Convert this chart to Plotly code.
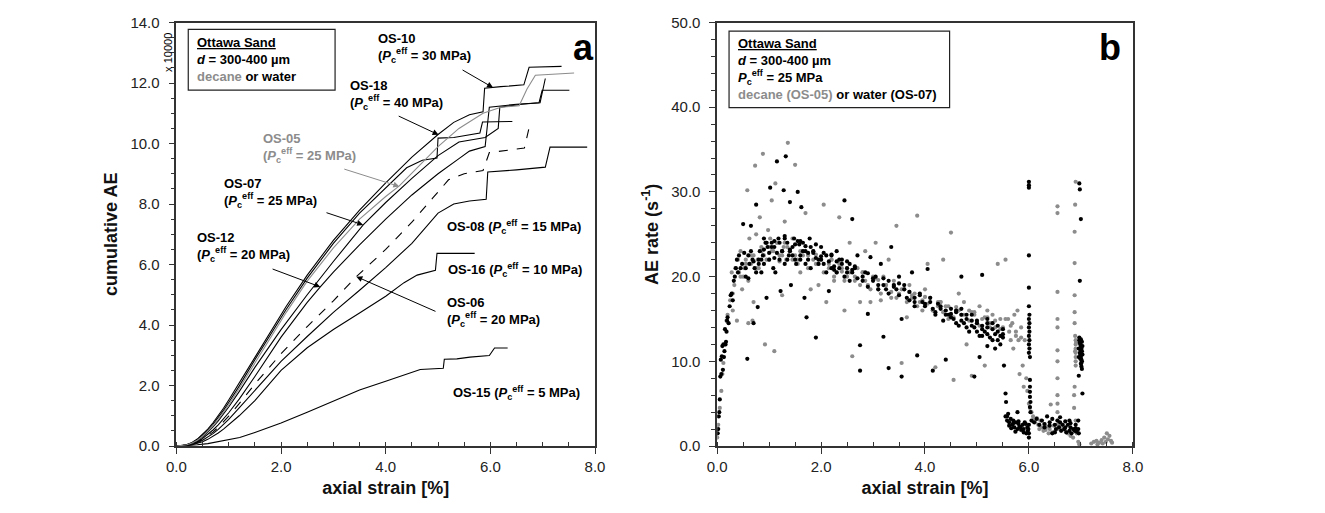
import plotly.graph_objects as go

# ---------------- Panel a: cumulative AE (x 10000) vs axial strain [%] ----------------
os10_x = [0, 0.1, 0.2, 0.3, 0.4, 0.5, 0.6, 0.7, 0.8, 0.9, 1.0, 1.2, 1.5, 1.8, 2.1, 2.5, 3.0, 3.5, 4.0, 4.5, 5.0, 5.3, 5.6, 5.86, 5.89, 6.2, 6.64, 6.74, 7.36]
os10_y = [0, 0.01, 0.05, 0.12, 0.23, 0.38, 0.56, 0.77, 1.0, 1.25, 1.52, 2.08, 2.95, 3.8, 4.62, 5.65, 6.8, 7.8, 8.7, 9.55, 10.3, 10.7, 10.95, 11.05, 11.83, 11.88, 11.94, 12.52, 12.55]

os18_x = [0, 0.1, 0.2, 0.3, 0.4, 0.5, 0.6, 0.7, 0.8, 0.9, 1.0, 1.2, 1.5, 1.8, 2.1, 2.5, 3.0, 3.5, 4.0, 4.4, 4.7, 4.98, 5.0, 5.3, 5.8, 5.85, 6.42]
os18_y = [0, 0.01, 0.045, 0.11, 0.21, 0.35, 0.52, 0.72, 0.94, 1.18, 1.44, 1.98, 2.85, 3.7, 4.52, 5.55, 6.7, 7.7, 8.55, 9.2, 9.45, 9.52, 10.18, 10.2, 10.35, 10.71, 10.73]

os05_x = [0, 0.1, 0.2, 0.3, 0.4, 0.5, 0.6, 0.7, 0.8, 0.9, 1.0, 1.2, 1.5, 1.8, 2.1, 2.5, 3.0, 3.5, 4.0, 4.26, 4.6, 5.0, 5.4, 5.86, 6.2, 6.55, 6.7, 6.86, 7.6]
os05_y = [0, 0.01, 0.04, 0.1, 0.19, 0.32, 0.48, 0.67, 0.88, 1.11, 1.36, 1.9, 2.75, 3.6, 4.42, 5.45, 6.55, 7.5, 8.25, 8.6, 9.2, 9.9, 10.5, 11.0, 11.2, 11.25, 11.8, 12.26, 12.33]

os07_x = [0, 0.1, 0.2, 0.3, 0.4, 0.5, 0.6, 0.7, 0.8, 0.9, 1.0, 1.2, 1.5, 2.0, 2.5, 3.0, 3.57, 4.0, 4.5, 5.0, 5.4, 5.9, 6.15, 6.18, 6.6, 6.93, 6.99, 7.51]
os07_y = [0, 0.01, 0.04, 0.09, 0.18, 0.3, 0.45, 0.63, 0.83, 1.05, 1.29, 1.8, 2.6, 3.85, 5.0, 6.1, 7.31, 8.05, 8.85, 9.6, 10.05, 10.2, 10.5, 11.2, 11.3, 11.35, 11.76, 11.76]

os12_x = [0, 0.1, 0.2, 0.3, 0.4, 0.5, 0.6, 0.7, 0.8, 0.9, 1.0, 1.2, 1.5, 2.0, 2.5, 2.75, 3.0, 3.5, 4.0, 4.5, 5.0, 5.4, 5.6, 5.9, 5.98, 6.5, 6.95, 7.05]
os12_y = [0, 0.01, 0.035, 0.08, 0.15, 0.25, 0.38, 0.53, 0.7, 0.89, 1.1, 1.55, 2.3, 3.6, 4.75, 5.26, 5.75, 6.65, 7.5, 8.3, 9.0, 9.5, 9.75, 9.9, 11.2, 11.3, 11.35, 12.15]

os06_x = [0, 0.1, 0.2, 0.3, 0.4, 0.5, 0.6, 0.7, 0.8, 0.9, 1.0, 1.2, 1.5, 2.0, 2.5, 3.0, 3.44, 4.0, 4.5, 4.9, 5.2, 5.5, 5.86, 5.98, 6.65, 6.75]
os06_y = [0, 0.005, 0.03, 0.07, 0.13, 0.22, 0.33, 0.46, 0.62, 0.8, 0.99, 1.4, 2.05, 3.05, 3.95, 4.8, 5.6, 6.5, 7.4, 8.2, 8.8, 9.0, 9.11, 9.7, 9.85, 10.6]

os08_x = [0, 0.1, 0.2, 0.3, 0.4, 0.5, 0.6, 0.7, 0.8, 0.9, 1.0, 1.2, 1.5, 2.0, 2.5, 3.0, 3.5, 4.0, 4.5, 4.8, 5.0, 5.3, 5.6, 5.92, 5.95, 6.5, 7.05, 7.14, 7.85]
os08_y = [0, 0.005, 0.025, 0.06, 0.11, 0.19, 0.29, 0.41, 0.55, 0.71, 0.88, 1.26, 1.85, 2.8, 3.62, 4.42, 5.15, 5.9, 6.7, 7.3, 7.7, 8.0, 8.1, 8.16, 9.06, 9.13, 9.22, 9.88, 9.88]

os16_x = [0, 0.1, 0.2, 0.3, 0.4, 0.5, 0.6, 0.7, 0.8, 0.9, 1.0, 1.2, 1.5, 2.0, 2.5, 3.0, 3.5, 4.0, 4.35, 4.6, 4.95, 4.98, 5.7]
os16_y = [0, 0.003, 0.015, 0.04, 0.08, 0.14, 0.22, 0.32, 0.43, 0.56, 0.7, 1.0, 1.5, 2.5, 3.25, 3.85, 4.4, 4.95, 5.4, 5.65, 5.81, 6.37, 6.37]

os15_x = [0, 0.2, 0.4, 0.6, 0.8, 1.0, 1.21, 1.5, 2.0, 2.5, 3.09, 3.5, 4.0, 4.66, 5.1, 5.12, 5.36, 5.61, 5.98, 6.08, 6.33]
os15_y = [0, 0.01, 0.04, 0.08, 0.14, 0.2, 0.28, 0.45, 0.76, 1.12, 1.55, 1.85, 2.14, 2.53, 2.57, 2.87, 2.88, 2.94, 2.99, 3.24, 3.24]

# ---------------- Panel b: AE rate vs axial strain ----------------
# OS-07 (water, black)
os07_rate_x = [0.01, 0.02, 0.03, 0.04, 0.05, 0.06, 0.07, 0.08, 0.09, 0.1, 0.11, 0.12, 0.13, 0.14, 0.15, 0.16, 0.17, 0.18, 0.19, 0.2,
               0.22, 0.24, 0.26, 0.28, 0.3, 0.32, 0.34, 0.36, 0.38, 0.4, 0.42, 0.45, 0.48, 0.5, 0.52, 0.55, 0.58, 0.6, 0.62, 0.65,
               0.68, 0.7, 0.72, 0.75, 0.78, 0.8, 0.82, 0.85, 0.88, 0.9, 0.93, 0.95, 0.97, 1.0, 1.02, 1.05, 1.08, 1.1, 1.12, 1.15,
               1.18, 1.2, 1.22, 1.25, 1.28, 1.3, 1.32, 1.35, 1.38, 1.4, 1.42, 1.45, 1.48, 1.5, 1.52, 1.55, 1.58, 1.6, 1.62, 1.65,
               1.68, 1.7, 1.72, 1.75, 1.78, 1.8, 1.85, 1.9, 1.95, 2.0, 2.05, 2.1, 2.15, 2.2, 2.25, 2.3, 2.35, 2.4, 2.45, 2.5,
               2.55, 2.6, 2.65, 2.7, 2.75, 2.8, 2.85, 2.9, 2.95, 3.0, 3.05, 3.1, 3.15, 3.2, 3.25, 3.3, 3.35, 3.4, 3.45, 3.5,
               3.55, 3.6, 3.65, 3.7, 3.75, 3.8, 3.85, 3.9, 3.95, 4.0, 4.05, 4.1, 4.15, 4.2, 4.25, 4.3, 4.35, 4.4, 4.45, 4.5,
               4.55, 4.6, 4.65, 4.7, 4.75, 4.8, 4.85, 4.9, 4.95, 5.0, 5.05, 5.1, 5.15, 5.2, 5.25, 5.3, 5.35, 5.4, 5.45, 5.5,
               2.75, 3.3, 3.55, 4.15, 4.4, 4.95, 5.05, 5.2, 4.5, 4.6, 4.7, 4.8, 4.9, 5.0, 5.1, 5.2, 5.3, 5.4, 5.45, 5.5,
               5.1, 4.7, 5.2, 5.35, 1.3, 1.6, 1.9, 2.2, 2.5, 0.9, 1.1, 1.4, 1.7, 2.0, 2.3, 2.6, 2.9, 3.2, 3.5, 3.8,
               0.55, 0.6, 0.65, 0.7, 0.75, 0.8, 0.85, 0.9, 0.95, 1.0, 1.05, 1.1, 1.15, 1.2, 1.25, 1.3, 1.35, 1.4, 1.45, 1.5,
               1.55, 1.6, 1.65, 1.7, 1.75, 1.8, 1.85, 1.9, 1.95, 2.0, 2.05, 2.1, 2.15, 2.2, 2.25, 2.3, 2.35, 2.4, 2.45, 2.5,
               2.55, 2.6, 2.65, 2.7, 2.8, 2.9, 3.0, 3.1, 3.2, 3.3, 3.4, 3.5, 3.6, 3.7, 3.8, 3.9, 4.0, 4.1, 4.2, 4.3,
               4.4, 4.5, 4.6, 4.7, 4.8, 4.9, 5.0, 5.1, 5.2, 5.3, 5.4, 5.5,
               5.52, 5.55, 5.56, 5.58, 5.55, 5.58, 5.6, 5.62, 5.65, 5.68, 5.7, 5.72, 5.75, 5.78, 5.78, 5.8, 5.82, 5.85, 5.88, 5.9,
               5.92, 5.95, 5.97, 5.98, 5.62, 5.66, 5.7, 5.74, 5.8, 5.84, 5.9, 5.94,
               6.0, 6.0, 6.0, 6.0, 6.0, 6.0, 6.01, 6.0, 6.01, 6.0, 6.01, 6.0, 6.01, 6.0, 6.01, 6.0, 6.02, 6.02, 6.02, 6.02,
               6.02, 6.03, 6.02, 6.03, 6.0, 5.99, 6.0, 6.0,
               6.05, 6.1, 6.15, 6.2, 6.25, 6.3, 6.35, 6.4, 6.45, 6.5, 6.52, 6.55, 6.58, 6.6, 6.62, 6.65, 6.68, 6.7, 6.72, 6.75,
               6.78, 6.8, 6.82, 6.85, 6.88, 6.9, 6.92, 6.95, 6.5, 6.45, 6.78, 6.6, 6.7, 6.8, 6.9, 6.4, 6.3,
               6.97, 6.98, 7.0, 6.98, 6.97, 6.98, 6.99, 7.0, 7.01, 7.02, 6.98, 6.99, 7.0, 7.01, 7.02, 7.0, 7.01, 7.02, 6.96, 7.03,
               6.97, 7.03, 7.03, 6.96, 6.96, 7.0, 6.95, 6.96, 7.02, 7.0, 6.99, 7.01]
os07_rate_y = [1.5, 2.0, 3.5, 4.0, 5.5, 8.2, 10.2, 8.5, 10.6, 11.8, 9.0, 12.0, 10.5, 11.2, 13.8, 12.0, 12.3, 13.5, 14.8, 15.2,
               14.5, 16.5, 17.8, 18.0, 17.2, 19.5, 20.0, 21.0, 22.0, 20.5, 22.5, 21.0, 21.5, 26.2, 22.8, 20.0, 10.3, 19.8, 21.5, 26.0,
               22.0, 14.5, 21.0, 28.5, 16.4, 22.0, 23.0, 20.5, 22.5, 24.5, 24.0, 17.5, 23.5, 22.8, 30.5, 24.0, 21.0, 23.5, 20.5, 33.6,
               24.5, 22.0, 18.3, 23.0, 30.2, 21.5, 34.2, 24.0, 22.5, 28.8, 19.0, 23.5, 24.5, 22.0, 21.5, 30.0, 23.8, 22.5, 28.2, 24.0,
               17.5, 23.0, 15.2, 22.0, 24.5, 23.5, 22.8, 12.8, 22.0, 23.5, 21.5, 22.5, 18.3, 21.0, 20.8, 23.0, 21.0, 22.0, 29.0, 20.5,
               21.5, 26.8, 21.0, 22.5, 11.9, 20.0, 20.5, 15.6, 22.3, 19.5, 20.0, 19.0, 21.5, 12.9, 18.5, 19.5, 23.5, 19.0, 18.5, 20.0,
               15.0, 19.0, 17.5, 18.2, 20.5, 17.5, 10.7, 18.0, 17.0, 16.5, 20.9, 17.0, 16.2, 15.5, 16.8, 16.5, 14.8, 16.0, 15.5, 16.2,
               15.0, 15.8, 14.2, 15.5, 14.5, 15.0, 13.5, 14.8, 14.0, 14.5, 13.0, 14.2, 13.5, 14.0, 12.8, 13.8, 13.2, 13.5, 13.0, 13.8,
               8.9, 9.2, 8.2, 8.9, 10.2, 8.2, 10.5, 15.0, 15.6, 14.5, 16.2, 14.0, 15.5, 13.5, 13.0, 14.5, 12.5, 14.2, 12.0, 12.8,
               20.2, 20.0, 11.8, 11.5, 24.8, 24.2, 23.8, 22.6, 21.8, 21.5, 22.2, 23.0, 23.6, 22.4, 21.8, 20.8, 20.4, 19.8, 19.2, 17.0,
               21.0, 22.5, 23.0, 21.8, 20.5, 21.5, 22.0, 23.2, 24.0, 22.0, 23.5, 24.2, 22.8, 24.0, 23.0, 24.5, 22.0, 23.2, 22.5, 23.8,
               24.2, 22.0, 23.0, 21.5, 22.8, 21.0, 23.0, 22.2, 21.5, 22.0, 22.8, 20.5, 21.8, 22.5, 21.2, 20.5, 22.0, 21.5, 20.0, 21.0,
               19.5, 20.5, 21.2, 19.8, 19.5, 18.8, 19.8, 18.5, 19.0, 18.0, 18.8, 17.8, 18.5, 17.2, 16.5, 17.8, 16.8, 17.5, 15.8, 16.2,
               15.5, 15.2, 16.0, 14.8, 15.5, 14.2, 14.8, 13.8, 13.2, 14.5, 12.5, 13.2,
               9.5, 6.2, 5.2, 3.5, 3.5, 3.0, 3.8, 2.8, 3.2, 2.5, 3.0, 2.2, 2.8, 4.0, 2.0, 2.6, 2.3, 1.9, 2.5, 2.0,
               2.8, 1.5, 2.2, 1.8, 2.4, 2.1, 2.7, 1.7, 2.9, 2.2, 1.6, 2.6,
               31.2, 30.8, 30.5, 22.5, 18.7, 16.5, 15.5, 15.0, 14.5, 14.0, 13.5, 13.0, 12.5, 12.0, 11.5, 11.0, 10.5, 7.8, 7.0, 6.4,
               5.8, 5.2, 4.6, 4.0, 2.5, 2.0, 1.5, 1.0,
               3.0, 2.8, 3.2, 2.5, 3.0, 2.2, 3.5, 2.8, 3.2, 2.5, 2.0, 3.0, 2.2, 2.8, 1.8, 2.5, 2.0, 2.2, 1.6, 2.5,
               1.8, 2.2, 1.5, 2.0, 1.8, 2.5, 1.7, 3.0, 1.6, 1.5, 3.0, 3.4, 2.9, 2.7, 2.1, 2.4, 2.6,
               31.0, 30.3, 26.8, 19.5, 12.5, 12.2, 12.0, 11.8, 11.5, 11.2, 11.0, 10.8, 10.5, 10.2, 10.0, 9.7, 9.4, 9.1, 8.3, 6.2,
               12.8, 11.8, 10.8, 11.5, 10.5, 12.6, 2.0, 1.5, 12.3, 11.3, 10.3, 9.8]

# OS-05 (decane, grey)
os05_rate_x = [0.0, 0.02, 0.05, 0.08, 0.1, 0.12, 0.15, 0.18, 0.2, 0.25, 0.28, 0.3, 0.33, 0.35, 0.38, 0.4, 0.42, 0.45, 0.48, 0.5,
               0.52, 0.55, 0.58, 0.6, 0.62, 0.65, 0.68, 0.7, 0.73, 0.75, 0.78, 0.8, 0.82, 0.85, 0.88, 0.9, 0.92, 0.95, 0.98, 1.0,
               1.02, 1.05, 1.08, 1.1, 1.12, 1.15, 1.2, 1.25, 1.28, 1.3, 1.33, 1.36, 1.4, 1.45, 1.5, 1.55, 1.6, 1.65, 1.7, 1.75,
               1.8, 1.85, 1.9, 1.95, 2.0, 2.05, 2.1, 2.15, 2.2, 2.25, 2.3, 2.35, 2.4, 2.45, 2.5, 2.55, 2.6, 2.65, 2.7, 2.75,
               2.8, 2.85, 2.9, 2.95, 3.0, 3.05, 3.1, 3.15, 3.2, 3.25, 3.3, 3.35, 3.4, 3.45, 3.5, 3.55, 3.6, 3.65, 3.7, 3.75,
               3.8, 3.85, 3.9, 3.95, 4.0, 4.05, 4.1, 4.15, 4.2, 4.25, 4.3, 4.35, 4.4, 4.45, 4.5, 4.55, 4.6, 4.65, 4.7, 4.75,
               4.8, 4.85, 4.9, 4.95, 5.0, 5.05, 5.1, 5.15, 5.2, 5.25, 5.3, 5.35, 5.4, 5.45, 5.5, 5.55, 5.6, 5.62, 5.65, 5.68,
               5.7, 5.72, 5.75, 5.78, 5.8, 5.82, 5.85, 5.88, 5.9, 5.92, 5.95, 5.97, 6.0, 6.02, 6.05, 6.08, 6.1, 6.12, 6.15, 6.18,
               6.2, 6.22, 6.25, 6.28, 6.3, 6.32, 6.35, 6.38, 6.4, 6.42, 6.45, 6.48, 6.5,
               6.55, 6.55, 6.55, 6.55, 6.55, 6.55, 6.55, 6.55, 6.55, 6.55, 6.55, 6.55, 6.55, 6.55,
               6.6, 6.65, 6.7, 6.75, 6.8, 6.85,
               6.9, 6.89, 6.88, 6.88, 6.88, 6.88, 6.88, 6.89, 6.9, 6.9, 6.9, 6.9, 6.9, 6.9, 6.9, 6.88, 6.87, 6.87, 6.9, 6.92,
               6.95, 6.97, 6.91, 6.89,
               7.2, 7.25, 7.3, 7.35, 7.4, 7.45, 7.5, 7.52, 7.55, 7.58, 7.6, 7.32, 7.42, 7.48,
               1.0, 1.3, 1.6, 1.9, 2.2, 2.5, 2.8, 3.1, 3.4, 3.7, 4.0, 4.3, 4.6, 4.9, 5.2, 0.6, 0.7, 1.2, 1.5, 2.4,
               0.3, 0.45, 0.55, 0.65, 0.75, 0.85, 0.95, 1.05, 1.15, 1.25, 1.35, 1.45, 1.55, 1.65, 1.75, 1.85, 1.95, 2.05, 2.15, 2.25,
               2.35, 2.45, 2.55, 2.65, 2.75, 2.85, 2.95, 3.05, 3.15, 3.25, 3.35, 3.45, 3.55, 3.65, 3.75, 3.85, 3.95, 4.05, 4.15, 4.25,
               4.35, 4.45, 4.55, 4.65, 4.75, 4.85, 4.95, 5.05, 5.15, 5.25, 5.35, 5.45, 5.55, 5.65, 5.75, 5.85]
os05_rate_y = [1.0, 2.5, 4.5, 6.5, 8.5, 9.8, 12.0, 14.8, 15.5, 17.2, 20.5, 16.0, 19.0, 21.0, 14.8, 22.0, 20.5, 23.0, 18.5, 20.0,
               21.0, 22.0, 30.2, 19.5, 24.5, 21.5, 14.8, 22.5, 33.1, 25.0, 22.0, 21.0, 27.0, 23.0, 34.5, 22.5, 12.0, 24.0, 25.5, 22.0,
               24.5, 29.0, 23.0, 11.2, 31.0, 24.0, 22.5, 17.8, 23.5, 26.5, 22.0, 35.8, 23.0, 24.5, 33.2, 22.0, 20.5, 23.0, 27.5, 22.5,
               18.5, 23.0, 21.5, 19.0, 22.0, 28.5, 17.0, 21.5, 22.0, 19.5, 20.5, 27.0, 21.0, 16.0, 20.0, 24.0, 10.6, 19.5, 21.0, 17.0,
               20.5, 23.0, 19.0, 17.0, 20.0, 24.0, 18.5, 17.2, 20.0, 19.0, 22.0, 17.5, 19.5, 26.0, 18.0, 9.8, 18.5, 15.2, 19.0, 17.5,
               18.0, 27.2, 17.0, 16.0, 18.5, 21.5, 17.5, 16.0, 9.3, 16.5, 17.0, 22.0, 16.5, 15.0, 25.2, 7.8, 16.0, 18.0, 15.5, 17.0,
               12.0, 16.0, 8.3, 15.5, 14.5, 16.5, 15.0, 9.5, 16.0, 14.5, 15.5, 14.0, 21.5, 15.0, 14.0, 22.0, 15.0, 13.5, 12.5, 14.5,
               11.5, 15.5, 13.0, 16.0, 12.5, 8.5, 14.0, 9.5, 7.0, 12.5, 8.0, 6.5, 5.0, 4.5, 4.0, 3.5, 3.2, 2.8, 3.3, 2.5,
               2.0, 3.0, 2.2, 1.8, 2.6, 1.9, 2.3, 1.5, 2.0, 4.9, 1.6, 2.4, 1.7,
               28.3, 27.5, 18.2, 15.0, 14.0, 11.3, 10.0, 8.0, 6.0, 5.0, 4.0, 3.0, 2.5, 2.0,
               2.5, 2.0, 1.8, 1.5, 1.2, 1.0,
               31.2, 28.5, 25.3, 21.6, 17.8, 15.8, 14.5, 13.0, 12.5, 12.0, 11.5, 11.0, 10.5, 10.0, 9.5, 7.0, 6.0, 4.5, 3.0, 1.5,
               0.5, 0.2, 12.2, 11.2,
               0.3, 0.5, 0.6, 0.4, 0.7, 1.0, 1.5, 0.8, 1.2, 0.6, 0.4, 0.2, 0.3, 0.5,
               23.5, 24.0, 23.0, 22.6, 22.0, 21.0, 20.5, 19.6, 19.0, 18.2, 17.6, 17.0, 16.4, 15.8, 15.2, 14.5, 17.0, 21.8, 22.5, 20.6,
               18.0, 20.0, 21.5, 22.5, 21.0, 23.5, 22.0, 23.0, 24.0, 22.5, 23.5, 22.0, 21.5, 22.5, 21.0, 22.0, 21.5, 20.5, 21.0, 20.0,
               21.5, 19.5, 20.5, 20.0, 19.0, 19.5, 18.5, 19.8, 18.0, 19.0, 18.2, 17.5, 18.5, 17.0, 17.8, 16.5, 17.2, 16.8, 16.0, 17.0,
               15.8, 16.5, 15.2, 16.0, 15.5, 14.8, 15.8, 14.2, 15.2, 14.0, 14.8, 13.8, 15.0, 14.2, 13.5, 12.8]

BLACK = "#000000"
GREY = "#8c8c8c"
FONT = "Liberation Sans, Arial, sans-serif"

fig = go.Figure()

curves = [
    (os10_x, os10_y, BLACK, "solid"),
    (os18_x, os18_y, BLACK, "solid"),
    (os07_x, os07_y, BLACK, "solid"),
    (os12_x, os12_y, BLACK, "solid"),
    (os06_x, os06_y, BLACK, "dash"),
    (os08_x, os08_y, BLACK, "solid"),
    (os16_x, os16_y, BLACK, "solid"),
    (os15_x, os15_y, BLACK, "solid"),
    (os05_x, os05_y, GREY, "solid"),
]
for cx, cy, col, dash in curves:
    fig.add_trace(go.Scatter(x=cx, y=cy, mode="lines", xaxis="x", yaxis="y",
                             line=dict(color=col, width=1.1, dash=dash), showlegend=False,
                             hoverinfo="skip"))

fig.add_trace(go.Scatter(x=os05_rate_x, y=os05_rate_y, mode="markers", xaxis="x2", yaxis="y2",
                         marker=dict(color=GREY, size=4.2), showlegend=False))
fig.add_trace(go.Scatter(x=os07_rate_x, y=os07_rate_y, mode="markers", xaxis="x2", yaxis="y2",
                         marker=dict(color=BLACK, size=4.2), showlegend=False))

axis_common = dict(showline=True, linecolor="#333333", linewidth=1.5, mirror=True,
                   ticks="outside", ticklen=6, tickcolor="#333333", tickwidth=1.2,
                   showgrid=False, zeroline=False, tickformat=".1f",
                   tickfont=dict(family=FONT, size=15, color="#222222"))

dom_y = [0.1189, 0.9727]
fig.update_layout(
    width=1325, height=513,
    margin=dict(l=0, r=0, t=0, b=0),
    paper_bgcolor="white", plot_bgcolor="white",
    font=dict(family=FONT, color="#111111"),
    xaxis=dict(domain=[0.1275, 0.4483], range=[0, 8], dtick=2, anchor="y",
               minor=dict(dtick=0.5, ticks="inside", ticklen=4, tickcolor="#333333"),
               title=dict(text="<b>axial strain [%]</b>", font=dict(family=FONT, size=18, color="#111111"), standoff=8),
               **axis_common),
    yaxis=dict(domain=dom_y, range=[0, 14], dtick=2, anchor="x", ticklabelstandoff=6,
               minor=dict(dtick=0.5, ticks="outside", ticklen=4, tickcolor="#333333"),
               title=dict(text="<b>cumulative AE</b>", font=dict(family=FONT, size=18, color="#111111"), standoff=8),
               **axis_common),
    xaxis2=dict(domain=[0.5419, 0.8604], range=[0, 8], dtick=2, anchor="y2",
                minor=dict(dtick=0.5, ticks="inside", ticklen=4, tickcolor="#333333"),
                title=dict(text="<b>axial strain [%]</b>", font=dict(family=FONT, size=18, color="#111111"), standoff=8),
                **axis_common),
    yaxis2=dict(domain=dom_y, range=[0, 50], dtick=10, anchor="x2", ticklabelstandoff=6,
                minor=dict(dtick=2, ticks="outside", ticklen=4, tickcolor="#333333"),
                title=dict(text="<b>AE rate (s<sup>-1</sup>)</b>", font=dict(family=FONT, size=18, color="#111111"), standoff=8),
                **axis_common),
)

PC = "<i>P</i><sub>c</sub><sup>eff</sup>"
ann = []
def label(x, y, text, color=BLACK):
    ann.append(dict(x=x, y=y, xref="x", yref="y", text="<b>" + text + "</b>", showarrow=False,
                    xanchor="left", yanchor="middle", align="left",
                    font=dict(family=FONT, size=13, color=color)))

label(3.82, 13.15, "OS-10<br>(" + PC + " = 30 MPa)")
label(3.28, 11.6, "OS-18<br>(" + PC + " = 40 MPa)")
label(1.62, 9.84, "OS-05<br>(" + PC + " = 25 MPa)", GREY)
label(0.87, 8.35, "OS-07<br>(" + PC + " = 25 MPa)")
label(0.36, 6.57, "OS-12<br>(" + PC + " = 20 MPa)")
label(5.14, 7.25, "OS-08 (" + PC + " = 15 MPa)")
label(5.16, 5.81, "OS-16 (" + PC + " = 10 MPa)")
label(5.14, 4.42, "OS-06<br>(" + PC + " = 20 MPa)")
label(5.25, 1.76, "OS-15 (" + PC + " = 5 MPa)")

def arrow(x, y, ax, ay, color=BLACK):
    ann.append(dict(x=x, y=y, ax=ax, ay=ay, xref="x", yref="y", axref="x", ayref="y",
                    text="", showarrow=True, arrowhead=2, arrowsize=1.2, arrowwidth=1,
                    arrowcolor=color))

arrow(6.05, 11.85, 5.44, 12.46)
arrow(5.01, 10.29, 4.22, 10.93)
arrow(4.26, 8.58, 3.18, 9.17, GREY)
arrow(3.57, 7.31, 2.84, 7.73)
arrow(2.75, 5.26, 1.81, 5.87)
arrow(3.44, 5.6, 4.98, 4.43)

# legend boxes (text)
ann.append(dict(x=0.1419, y=0.8986, xref="paper", yref="paper", xanchor="left", yanchor="middle", align="left",
                showarrow=False, font=dict(family=FONT, size=13, color=BLACK),
                text="<b><u>Ottawa Sand</u></b><br><b><i>d</i> = 300-400 µm</b><br>"
                     "<b><span style='color:" + GREY + "'>decane</span> or water</b>"))
ann.append(dict(x=0.5562, y=0.879, xref="paper", yref="paper", xanchor="left", yanchor="middle", align="left",
                showarrow=False, font=dict(family=FONT, size=13, color=BLACK),
                text="<b><u>Ottawa Sand</u></b><br><b><i>d</i> = 300-400 µm</b><br><b>" + PC + " = 25 MPa</b><br>"
                     "<b><span style='color:" + GREY + "'>decane (OS-05)</span> or water (OS-07)</b>"))
ann.append(dict(x=0.4392, y=0.922, xref="paper", yref="paper", xanchor="center", yanchor="middle",
                text="<b>a</b>", showarrow=False, font=dict(family=FONT, size=36, color=BLACK)))
ann.append(dict(x=0.843, y=0.922, xref="paper", yref="paper", xanchor="center", yanchor="middle",
                text="<b>b</b>", showarrow=False, font=dict(family=FONT, size=36, color=BLACK)))
ann.append(dict(x=0.1205, y=0.912, xref="paper", yref="paper", xanchor="center", yanchor="middle",
                text="x 10000", showarrow=False, textangle=-90,
                font=dict(family=FONT, size=11, color=BLACK)))

fig.update_layout(annotations=ann)
fig.update_layout(shapes=[
    dict(type="rect", xref="paper", yref="paper", x0=0.1366, x1=0.2491, y0=0.8363, y1=0.959,
         line=dict(color="#222222", width=1.2), fillcolor="rgba(0,0,0,0)"),
    dict(type="rect", xref="paper", yref="paper", x0=0.551, x1=0.72, y0=0.8012, y1=0.9552,
         line=dict(color="#222222", width=1.2), fillcolor="rgba(0,0,0,0)"),
])

fig.write_html("out.html")
